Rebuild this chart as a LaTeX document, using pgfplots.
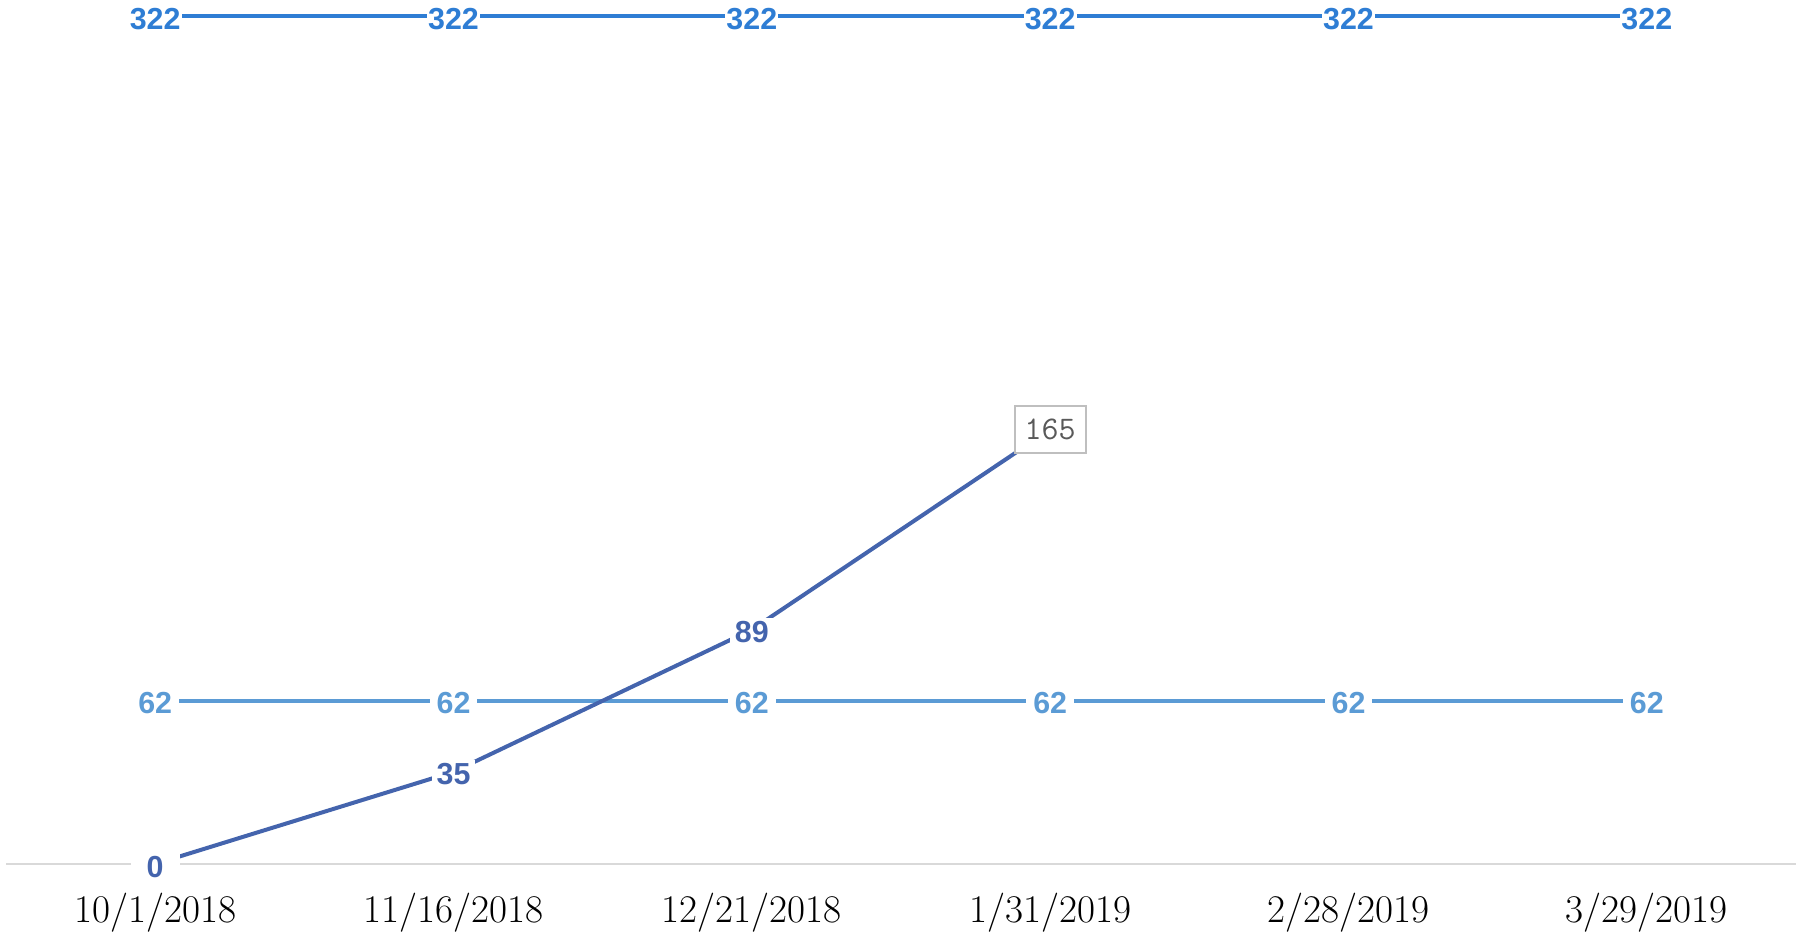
\documentclass[border=0pt]{standalone}
\usepackage{fontspec}
\newfontfamily\lsans{Liberation Sans}
\usepackage{pgfplots}
\pgfplotsset{compat=1.18}
\definecolor{topblue}{RGB}{46,125,212}
\definecolor{midblue}{RGB}{91,155,213}
\definecolor{progblue}{RGB}{68,100,173}
\definecolor{axgray}{RGB}{217,217,217}
\definecolor{boxgray}{RGB}{191,191,191}
\definecolor{txtgray}{RGB}{89,89,89}
\begin{document}
\begin{tikzpicture}
\begin{axis}[name=ax,
  scale only axis, width=895pt, height=423.9pt,
  xmin=-0.5, xmax=5.5, ymin=0, ymax=322,
  clip=false,
  axis y line=none, axis x line*=bottom,
  x axis line style={draw=axgray, line width=0.9pt, -},
  xtick={0,...,5},
  xticklabels={10/1/2018,11/16/2018,12/21/2018,1/31/2019,2/28/2019,3/29/2019},
  major tick length=0pt, ytick=\empty,
  xticklabel style={font=\fontsize{19.6}{21}\selectfont, text=black, anchor=base, inner sep=0pt, yshift=-29.3pt},
  /pgf/number format/assume math mode=true,
]
% lines
\addplot[topblue, line width=2.15pt, mark=none, forget plot] coordinates {(0,322) (1,322) (2,322) (3,322) (4,322) (5,322)};
\addplot[midblue, line width=2.2pt, mark=none, forget plot] coordinates {(0,62) (1,62) (2,62) (3,62) (4,62) (5,62)};
\addplot[progblue, line width=2pt, mark=none, forget plot] coordinates {(0,0) (1,35) (2,89) (3,165)};
% labels
\addplot[draw=none, mark=none, forget plot, nodes near coords,
  every node near coord/.style={anchor=center, yshift=-1.3pt, fill=white, inner xsep=0.6pt, inner ysep=1pt, text=topblue, font=\lsans\bfseries\fontsize{15.2}{17}\selectfont}]
  coordinates {(0,322) (1,322) (2,322) (3,322) (4,322) (5,322)};
\addplot[draw=none, mark=none, forget plot, nodes near coords,
  every node near coord/.style={anchor=center, yshift=-1.1pt, fill=white, inner xsep=3.5pt, inner ysep=2pt, text=midblue, font=\lsans\bfseries\fontsize{15.2}{17}\selectfont}]
  coordinates {(0,62) (1,62) (2,62) (3,62) (4,62) (5,62)};
\addplot[draw=none, mark=none, forget plot, nodes near coords,
  every node near coord/.style={anchor=center, yshift=-1.3pt, fill=white, inner xsep=2.5pt, inner ysep=2pt, text=progblue, font=\lsans\bfseries\fontsize{15.2}{17}\selectfont}]
  coordinates {(1,35) (2,89)};
\addplot[draw=none, mark=none, forget plot, nodes near coords,
  every node near coord/.style={anchor=center, yshift=-1.3pt, fill=white, inner xsep=8pt, inner ysep=3pt, text=progblue, font=\lsans\bfseries\fontsize{15.2}{17}\selectfont}]
  coordinates {(0,0)};
\addplot[draw=none, mark=none, forget plot, nodes near coords,
  every node near coord/.style={anchor=center, fill=white, draw=boxgray, line width=0.9pt, inner sep=0pt, minimum width=35.5pt, minimum height=23.5pt, text=txtgray, font=\ttfamily\fontsize{16.5}{18}\selectfont}]
  coordinates {(3,165)};
\end{axis}
\pgfresetboundingbox
\path ([shift={(-3pt,-33.5pt)}]ax.south west) rectangle ([shift={(0pt,8.1pt)}]ax.north east);
\end{tikzpicture}
\end{document}
